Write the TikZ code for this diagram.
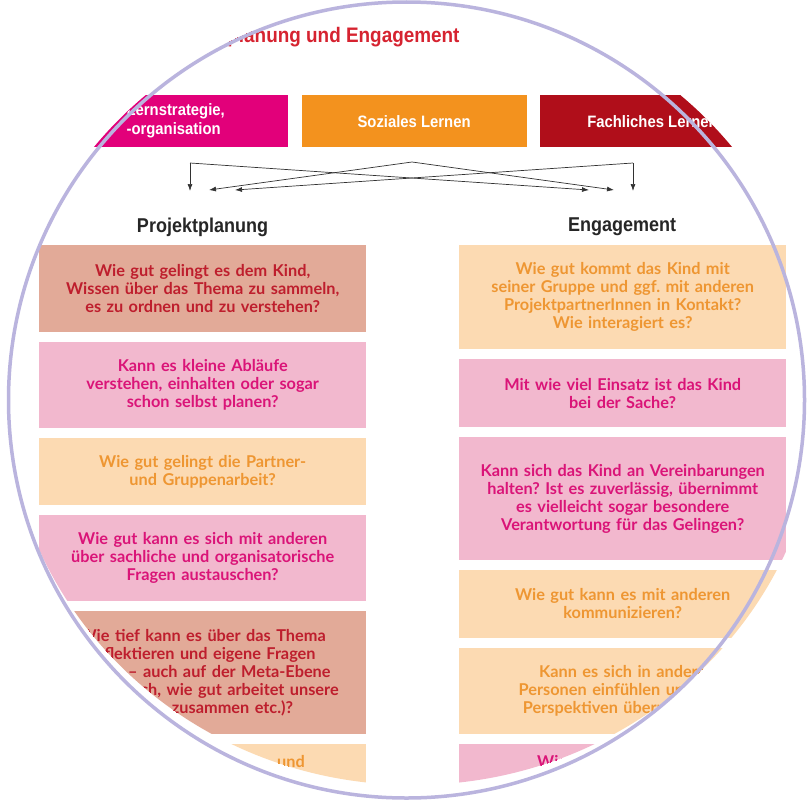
\documentclass[tikz,border=0pt]{standalone}
\usepackage{fontspec}
\setmainfont{Lato}
\newfontfamily\headfont{Liberation Sans}[FakeStretch=0.9]
\usepackage{tikz}
\usetikzlibrary{arrows.meta, positioning}
\frenchspacing
\definecolor{ringlav}{RGB}{186,180,222}
\definecolor{titlered}{RGB}{214,35,48}
\definecolor{topmagenta}{RGB}{226,0,122}
\definecolor{toporange}{RGB}{243,146,30}
\definecolor{topdarkred}{RGB}{176,14,26}
\definecolor{boxsalmon}{RGB}{226,170,152}
\definecolor{boxpink}{RGB}{242,184,206}
\definecolor{boxorange}{RGB}{252,218,178}
\definecolor{txtred}{RGB}{190,30,45}
\definecolor{txtmagenta}{RGB}{218,20,120}
\definecolor{txtorange}{RGB}{238,150,50}
\definecolor{arrowgrey}{RGB}{50,50,50}
\tikzset{
  qbox/.style={rectangle, minimum width=327pt, text width=320pt,
    align=center, inner sep=0pt,
    font=\bfseries\fontsize{16.3}{18}\selectfont},
  salmonbox/.style={qbox, fill=boxsalmon, text=txtred},
  pinkbox/.style={qbox, fill=boxpink, text=txtmagenta},
  orangebox/.style={qbox, fill=boxorange, text=txtorange},
  topbox/.style={rectangle, minimum width=225pt, minimum height=52pt,
    inner sep=0pt, text=white,
    font=\headfont\bfseries\fontsize{16.5}{19}\selectfont},
  colhead/.style={font=\headfont\bfseries\fontsize{20}{22}\selectfont,
    text=black!85},
  arrow/.style={-{Latex[length=7pt,width=5pt]}, line width=0.7pt, color=arrowgrey}
}

\begin{document}
\begin{tikzpicture}[x=1pt, y=-1pt, node distance=9.5pt]
  \useasboundingbox (0,0) rectangle (810,800);
  \fill[white] (0,0) rectangle (810,800);

  \begin{scope}
    \clip (413,392) ellipse [x radius=408pt, y radius=393pt];
    % Title
    \node[font=\headfont\bfseries\fontsize{21}{24}\selectfont, text=titlered,
      anchor=base east] (title) at (463,42) {Projektplanung und Engagement};

    % Learning areas
    \node[topbox, fill=topmagenta, align=left, anchor=north west] (lern) at (63,95)
      {Lernstrategie,\\-organisation};
    \node[topbox, fill=toporange, right=13pt of lern] (sozial) {Soziales Lernen};
    \node[topbox, fill=topdarkred, right=13pt of sozial] (fach) {Fachliches Lernen};

    % Arrows
    \coordinate (srcL) at (190,163);
    \coordinate (srcM) at (412,162);
    \coordinate (srcR) at (633,163);
    \coordinate (tipL1) at (190,191);
    \coordinate (tipL2) at (209,190);
    \coordinate (tipL3) at (235,190);
    \coordinate (tipR1) at (589,190);
    \coordinate (tipR2) at (614,190);
    \coordinate (tipR3) at (633,191);
    \draw[arrow] (srcL) -- (tipL1);
    \draw[arrow] (srcL) -- (tipR1);
    \draw[arrow] (srcM) -- (tipL2);
    \draw[arrow] (srcM) -- (tipR2);
    \draw[arrow] (srcR) -- (tipR3);
    \draw[arrow] (srcR) -- (tipL3);

    % Column headers
    \node[colhead] (proj) at (202.5,227) {Projektplanung};
    \node[colhead] (eng) at (622,227) {Engagement};

    % Projektplanung column
    \node[salmonbox, minimum height=87pt, anchor=north west] (p1) at (39,245)
      {Wie gut gelingt es dem Kind,\\Wissen über das Thema zu sammeln,\\es zu ordnen und zu verstehen?};
    \node[pinkbox, minimum height=86pt, below=of p1] (p2)
      {Kann es kleine Abläufe\\verstehen, einhalten oder sogar\\schon selbst planen?};
    \node[orangebox, minimum height=67pt, below=of p2] (p3)
      {Wie gut gelingt die Partner-\\und Gruppenarbeit?};
    \node[pinkbox, minimum height=86pt, below=of p3] (p4)
      {Wie gut kann es sich mit anderen\\über sachliche und organisatorische\\Fragen austauschen?};
    \node[salmonbox, minimum height=123pt, below=of p4] (p5)
      {Wie tief kann es über das Thema\\reflektieren und eigene Fragen\\stellen – auch auf der Meta-Ebene\\(z.\,B. danach, wie gut arbeitet unsere\\Gruppe zusammen etc.)?};
    \node[orangebox, minimum height=80pt, below=of p5] (p6) {};
    \node[font=\bfseries\fontsize{16.3}{18}\selectfont, text=txtorange,
      anchor=base east, inner sep=0pt] (p6txt) at (305,767) {und};

    % Engagement column
    \node[orangebox, minimum height=104pt, anchor=north west] (e1) at (459,245)
      {Wie gut kommt das Kind mit\\seiner Gruppe und ggf. mit anderen\\ProjektpartnerInnen in Kontakt?\\Wie interagiert es?};
    \node[pinkbox, minimum height=68pt, below=of e1] (e2)
      {Mit wie viel Einsatz ist das Kind\\bei der Sache?};
    \node[pinkbox, minimum height=123pt, below=of e2] (e3)
      {Kann sich das Kind an Vereinbarungen\\halten? Ist es zuverlässig, übernimmt\\es vielleicht sogar besondere\\Verantwortung für das Gelingen?};
    \node[orangebox, minimum height=68pt, below=of e3] (e4)
      {Wie gut kann es mit anderen\\kommunizieren?};
    \node[orangebox, minimum height=86pt, below=of e4] (e5)
      {Kann es sich in andere\\Personen einfühlen und ihre\\Perspektiven übernehmen?};
    \node[pinkbox, minimum height=80pt, below=of e5] (e6) {};
    \node[font=\bfseries\fontsize{16.3}{18}\selectfont, text=txtmagenta,
      anchor=base west, inner sep=0pt] (e6txt) at (537,767) {Wie};
  \end{scope}

  % Frame
  \draw[ringlav, line width=3.5pt] (406.5,400) circle (398pt);
\end{tikzpicture}
\end{document}
